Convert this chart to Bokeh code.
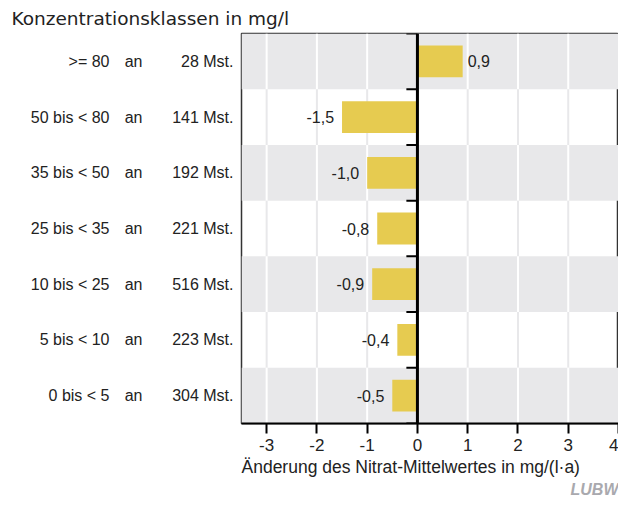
from bokeh.plotting import figure
from bokeh.models import Range1d, FixedTicker, Span, ColumnDataSource, LinearAxis, Title
from bokeh.embed import file_html
from bokeh.resources import INLINE
from bokeh.core.properties import value

# ---- data ----
classes = [">= 80", "50 bis < 80", "35 bis < 50", "25 bis < 35", "10 bis < 25", "5 bis < 10", "0 bis < 5"]
stations = [28, 141, 192, 221, 516, 223, 304]
changes = [0.9, -1.5, -1.0, -0.8, -0.9, -0.4, -0.5]
x_ticks = [-3, -2, -1, 0, 1, 2, 3, 4]
grid_x = [-3, -2, -1, 1, 2, 3]

title_text = "Konzentrationsklassen in mg/l"
xlabel_text = "Änderung des Nitrat-Mittelwertes in mg/(l·a)"
logo_text = "LUBW"

# ---- layout ----
W, H = 618, 497
X0, X1 = -3.5, 4.0
n = len(classes)

FONT = "Liberation Sans"
TXT = "#222222"
GREY = "#e8e8ea"
BAR = "#e6cb50"

p = figure(width=W, height=H, x_range=Range1d(X0, X1), y_range=Range1d(0, n),
           min_border_left=241, min_border_right=0, min_border_top=27, min_border_bottom=0,
           output_backend="svg", toolbar_location=None)
p.xgrid.visible = False
p.ygrid.visible = False
p.outline_line_color = "#333333"
p.outline_line_width = 1.5
p.background_fill_color = "white"
p.border_fill_color = "white"

centers = [n - 0.5 - i for i in range(n)]

# vertical grid lines (grey in white rows), bands, white lines in grey rows
gx0, gy0, gy1, gcol = [], [], [], []
for i in range(n):
    for g in grid_x:
        gx0.append(g)
        gy0.append(centers[i] - 0.5)
        gy1.append(centers[i] + 0.5)
        gcol.append("white" if i % 2 == 0 else GREY)
band_b = [centers[i] - 0.5 for i in range(n) if i % 2 == 0]
band_t = [centers[i] + 0.5 for i in range(n) if i % 2 == 0]
p.quad(left=X0, right=X1, bottom=band_b, top=band_t, fill_color=GREY, line_color=None)
p.segment(x0=gx0, x1=gx0, y0=gy0, y1=gy1, line_color=gcol, line_width=2)

# bars
p.hbar(y=centers, left=0, right=changes, height=0.57, fill_color=BAR, line_color=None)

# zero line and its ticks
p.add_layout(Span(location=0, dimension="height", line_color="black", line_width=3))
bounds = list(range(n + 1))
p.segment(x0=[-0.22] * len(bounds), x1=[0] * len(bounds), y0=bounds, y1=bounds,
          line_color="black", line_width=2)


# value labels
def fmt(v):
    return ("%.1f" % v).replace(".", ",")


pos = ColumnDataSource(dict(x=[v for v in changes if v >= 0],
                            y=[c for v, c in zip(changes, centers) if v >= 0],
                            t=[fmt(v) for v in changes if v >= 0]))
neg = ColumnDataSource(dict(x=[v for v in changes if v < 0],
                            y=[c for v, c in zip(changes, centers) if v < 0],
                            t=[fmt(v) for v in changes if v < 0]))
p.text(x="x", y="y", text="t", source=pos, x_offset=5, text_align="left", text_baseline="middle",
       text_font=value(FONT), text_font_size="16px", text_color=TXT)
p.text(x="x", y="y", text="t", source=neg, x_offset=-8, text_align="right", text_baseline="middle",
       text_font=value(FONT), text_font_size="16px", text_color=TXT)


# category labels as three stacked left axes
def label_axis(ax, labels, standoff):
    ax.ticker = FixedTicker(ticks=centers)
    ax.major_label_overrides = {c: t for c, t in zip(centers, labels)}
    ax.axis_line_color = None
    ax.major_tick_line_color = None
    ax.minor_tick_line_color = None
    ax.major_tick_in = 0
    ax.major_tick_out = 0
    ax.major_label_standoff = standoff
    ax.major_label_text_font = FONT
    ax.major_label_text_font_size = "16px"
    ax.major_label_text_color = TXT


label_axis(p.yaxis[0], ["%d Mst." % s for s in stations], 8)
ax_an = LinearAxis()
label_axis(ax_an, ["an"] * n, 27)
p.add_layout(ax_an, "left")
ax_cls = LinearAxis()
label_axis(ax_cls, classes, 12)
p.add_layout(ax_cls, "left")

# heading
p.add_layout(Title(text=title_text, align="left", offset=-230, text_font="DejaVu Sans",
                   text_font_size="18.5px", text_font_style="normal", text_color=TXT, standoff=10),
             "above")

# x axis
p.xaxis.ticker = FixedTicker(ticks=x_ticks)
p.xaxis.major_label_overrides = {t: str(t) for t in x_ticks}
p.xaxis.minor_tick_line_color = None
p.xaxis.major_tick_in = 0
p.xaxis.major_tick_out = 10
p.xaxis.major_tick_line_width = 2
p.xaxis.major_tick_line_color = "black"
p.xaxis.axis_line_width = 2
p.xaxis.axis_line_color = "black"
p.xaxis.major_label_standoff = 5
p.xaxis.major_label_text_font = FONT
p.xaxis.major_label_text_font_size = "17px"
p.xaxis.major_label_text_color = TXT

p.add_layout(Title(text=xlabel_text, align="left", text_font=FONT, text_font_size="17.5px",
                   text_font_style="normal", text_color=TXT, standoff=3), "below")
p.add_layout(Title(text=logo_text, align="right", text_font=FONT, text_font_size="16px",
                   text_font_style="bold italic", text_color="#a9a9ae", standoff=0), "below")

open("out.html", "w").write(file_html(p, INLINE))
